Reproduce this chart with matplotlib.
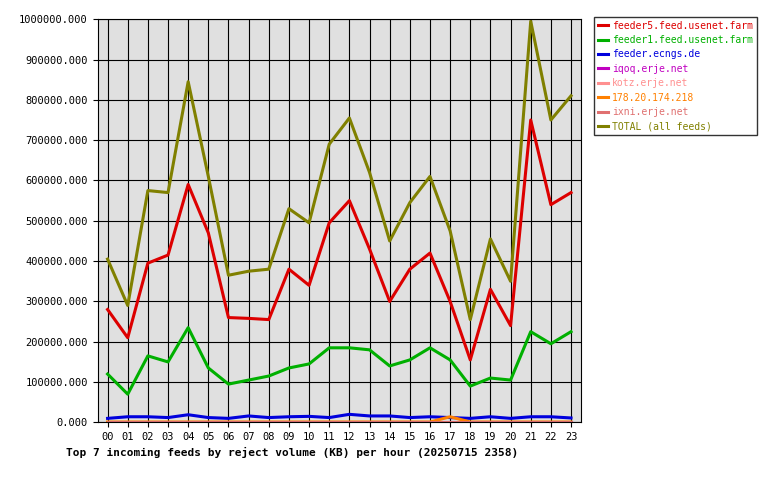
import matplotlib
matplotlib.use("Agg")
import matplotlib.pyplot as plt
from matplotlib.ticker import FuncFormatter, MultipleLocator

hours = ["%02d" % h for h in range(24)]
feeder5 = [280000,210000,395000,415000,590000,470000,260000,258000,255000,380000,340000,495000,550000,430000,300000,380000,420000,300000,155000,330000,240000,750000,540000,570000]
feeder1 = [120000,70000,165000,150000,235000,135000,95000,105000,115000,135000,145000,185000,185000,180000,140000,155000,185000,155000,90000,110000,105000,225000,195000,225000]
ecngs = [10000,14000,14000,12000,19000,12000,10000,16000,12000,14000,15000,12000,20000,16000,16000,12000,14000,12000,10000,14000,10000,14000,14000,11000]
iqoq = [1000]*24
kotz = [1500]*24
ip178 = [1000]*17 + [14000] + [1000]*6
ixni = [500]*24
total = [405000,290000,575000,570000,845000,610000,365000,375000,380000,530000,495000,690000,755000,620000,450000,545000,610000,475000,255000,455000,350000,995000,750000,810000]

series = [
    ("feeder5.feed.usenet.farm", feeder5, "#dd0000"),
    ("feeder1.feed.usenet.farm", feeder1, "#00b000"),
    ("feeder.ecngs.de", ecngs, "#0000dd"),
    ("iqoq.erje.net", iqoq, "#c000c0"),
    ("kotz.erje.net", kotz, "#ff9090"),
    ("178.20.174.218", ip178, "#ff8000"),
    ("ixni.erje.net", ixni, "#e07070"),
    ("TOTAL (all feeds)", total, "#808000"),
]

plt.rcParams['font.family'] = ['DejaVu Sans Mono']
fig = plt.figure(figsize=(7.8, 4.8), dpi=100)
ax = fig.add_axes([0.125, 0.12, 0.62, 0.84])
ax.set_facecolor("#e0e0e0")
x = list(range(24))
for name, vals, c in series:
    ax.plot(x, vals, color=c, lw=2.2, label=name)
ax.set_xlim(-0.5, 23.5)
ax.set_ylim(0, 1000000)
ax.set_xticks(x)
ax.set_xticklabels(hours, fontsize=7.5)
ax.yaxis.set_major_locator(MultipleLocator(100000))
ax.yaxis.set_major_formatter(FuncFormatter(lambda v, p: "%.3f" % v))
ax.tick_params(axis='y', labelsize=7.5)
ax.grid(True, color="black", lw=0.8)
ax.set_axisbelow(True)
leg = fig.legend(loc="upper left", bbox_to_anchor=(0.762, 0.965), fontsize=7, frameon=True,
                 fancybox=False, edgecolor="black", handlelength=1.0, handletextpad=0.4,
                 borderaxespad=0, labelspacing=0.45)
for t, (_, _, c) in zip(leg.get_texts(), series):
    t.set_color(c)
fig.text(0.085, 0.05, "Top 7 incoming feeds by reject volume (KB) per hour (20250715 2358)",
         fontsize=8, fontweight="bold")
fig.savefig("out.png")
